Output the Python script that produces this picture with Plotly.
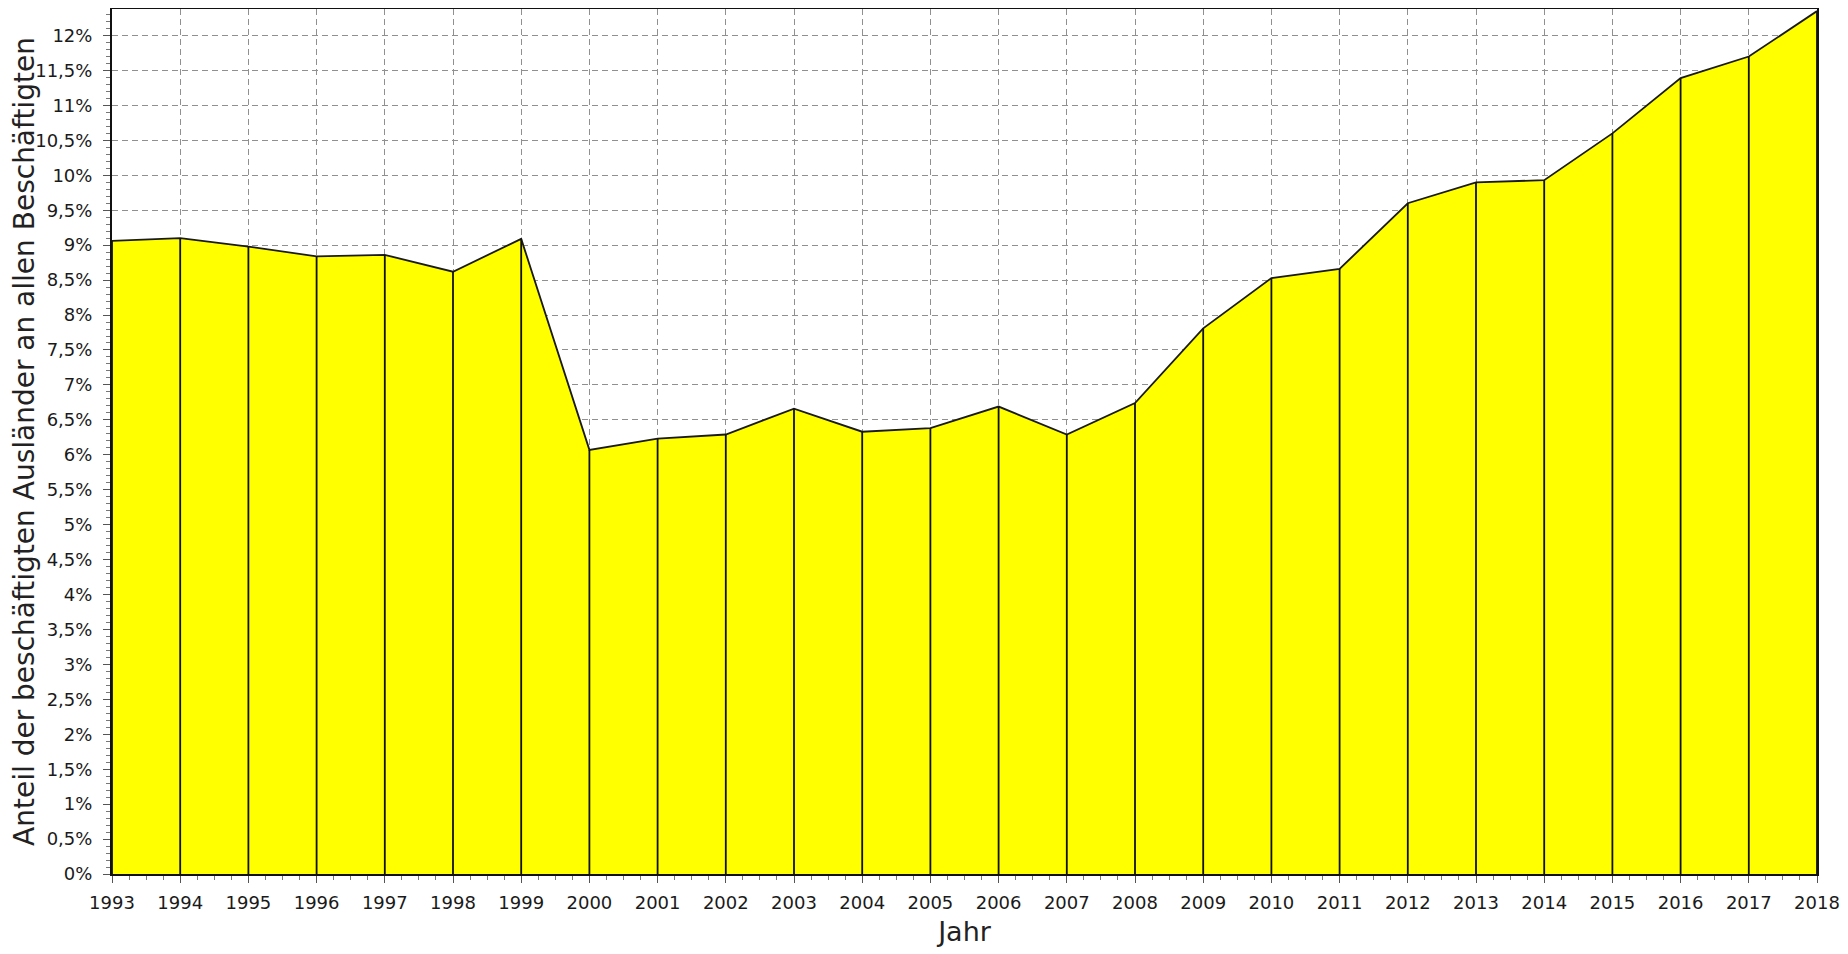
import plotly.graph_objects as go

years = [1993, 1994, 1995, 1996, 1997, 1998, 1999, 2000, 2001, 2002, 2003, 2004, 2005,
         2006, 2007, 2008, 2009, 2010, 2011, 2012, 2013, 2014, 2015, 2016, 2017, 2018]
share = [9.06, 9.10, 8.98, 8.84, 8.86, 8.62, 9.09, 6.07, 6.23, 6.29, 6.66, 6.33, 6.38,
         6.69, 6.29, 6.74, 7.81, 8.53, 8.66, 9.60, 9.90, 9.93, 10.60, 11.39, 11.70, 12.35]

y_tickvals = [0, 0.5, 1, 1.5, 2, 2.5, 3, 3.5, 4, 4.5, 5, 5.5, 6, 6.5, 7, 7.5, 8, 8.5,
              9, 9.5, 10, 10.5, 11, 11.5, 12]
y_ticktext = ["0%", "0,5%", "1%", "1,5%", "2%", "2,5%", "3%", "3,5%", "4%", "4,5%",
              "5%", "5,5%", "6%", "6,5%", "7%", "7,5%", "8%", "8,5%", "9%", "9,5%",
              "10%", "10,5%", "11%", "11,5%", "12%"]
x_ticktext = [str(y) for y in years]

x_title = "Jahr"
y_title = "Anteil der beschäftigten Ausländer an allen Beschäftigten"

fig = go.Figure()

fig.add_trace(go.Scatter(
    x=years, y=share, mode="lines", fill="tozeroy",
    fillcolor="#FFFF00", line=dict(color="#1a1a1a", width=1.8),
    hoverinfo="x+y", showlegend=False, cliponaxis=False))

# vertical drop lines from each data point to the axis
dx, dy = [], []
for yr, v in zip(years, share):
    dx += [yr, yr, None]
    dy += [0, v, None]
fig.add_trace(go.Scatter(
    x=dx, y=dy, mode="lines", line=dict(color="#111111", width=1.8),
    hoverinfo="skip", showlegend=False))

tick_font = "DejaVu Sans"
title_font = "DejaVu Sans"

# page body has an 8px default margin, so the figure is sized to fit the window
fig.update_layout(
    width=1840, height=946,
    margin=dict(l=104, r=31, t=1, b=80, autoexpand=False),
    paper_bgcolor="white", plot_bgcolor="white",
    font=dict(family=tick_font, color="#1a1a1a"),
    showlegend=False,
)

fig.update_xaxes(
    range=[1993, 2018], automargin=False,
    tickmode="array", tickvals=years, ticktext=x_ticktext,
    tickfont=dict(size=18, family=tick_font, color="#1a1a1a"),
    ticks="outside", ticklen=7, tickwidth=1, tickcolor="#555555",
    ticklabelstandoff=4,
    minor=dict(dtick=0.25, tick0=1993, ticks="outside", ticklen=4, tickcolor="#777777", showgrid=False),
    showgrid=True, gridcolor="#909090", gridwidth=1, griddash="6px,4px",
    showline=True, linecolor="#111111", linewidth=2, mirror=True,
    zeroline=False,
    title=dict(text=x_title, font=dict(size=27, family=title_font, color="#222222"), standoff=11),
)

fig.update_yaxes(
    range=[0, 12.38], automargin=False,
    tickmode="array", tickvals=y_tickvals, ticktext=y_ticktext,
    tickfont=dict(size=18, family=tick_font, color="#1a1a1a"),
    ticks="outside", ticklen=7, tickwidth=1, tickcolor="#555555",
    ticklabelstandoff=7,
    minor=dict(dtick=0.1, tick0=0, ticks="outside", ticklen=4, tickcolor="#777777", showgrid=False),
    showgrid=True, gridcolor="#909090", gridwidth=1, griddash="6px,4px",
    showline=True, linecolor="#111111", linewidth=2, mirror=True,
    zeroline=False,
    title=dict(text=y_title, font=dict(size=28, family=title_font, color="#222222"), standoff=2),
)

fig.write_html("out.html")
